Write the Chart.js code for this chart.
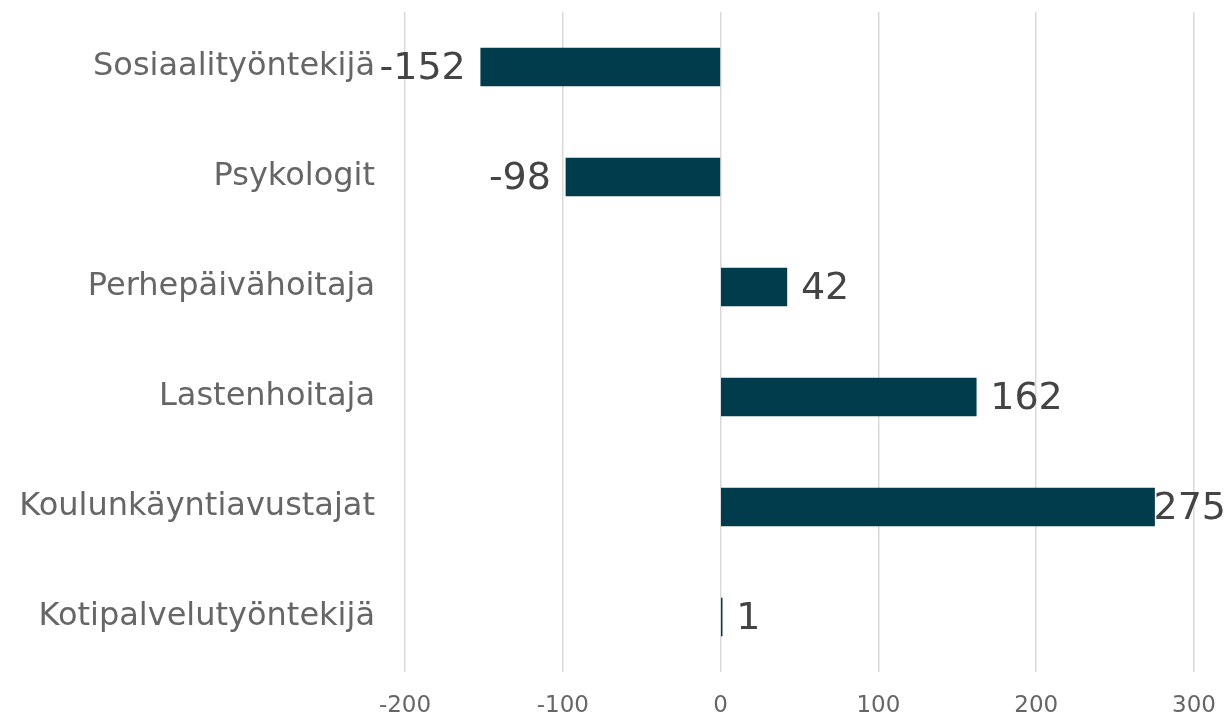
<!DOCTYPE html>
<html>
<head>
<meta charset="utf-8">
<script src="https://cdn.jsdelivr.net/npm/chart.js@4"></script>
<style>
  html, body { margin: 0; padding: 0; background: #fff; }
  #wrap { width: 1227px; height: 714px; position: relative; }
</style>
</head>
<body>
<div id="wrap"><canvas id="changeChart"></canvas></div>
<script>
// Occupations and change values
const occupations = [
    'Sosiaalityöntekijä',
    'Psykologit',
    'Perhepäivähoitaja',
    'Lastenhoitaja',
    'Koulunkäyntiavustajat',
    'Kotipalvelutyöntekijä'
];
const changeValues = [-152, -98, 42, 162, 275, 1];
const xTicks = [-200, -100, 0, 100, 200, 300];

const barColor = '#003c4b';

// Draw the value next to the end of each bar
const valueLabels = {
    id: 'valueLabels',
    afterDatasetsDraw(chart) {
        const ctx = chart.ctx;
        const meta = chart.getDatasetMeta(0);
        ctx.save();
        ctx.font = '38px "DejaVu Sans", Verdana, sans-serif';
        ctx.fillStyle = '#444444';
        ctx.textBaseline = 'middle';
        meta.data.forEach((bar, i) => {
            const v = changeValues[i];
            const txt = String(v);
            const w = ctx.measureText(txt).width;
            if (v < 0) {
                ctx.textAlign = 'right';
                ctx.fillText(txt, bar.x - 15, bar.y + 2);
            } else {
                ctx.textAlign = 'left';
                const x = Math.min(bar.x + 14, chart.width - 1 - w);
                ctx.fillText(txt, x, bar.y + 2);
            }
        });
        ctx.restore();
    }
};

const ctx = document.getElementById('changeChart').getContext('2d');
const changeChart = new Chart(ctx, {
    type: 'bar',
    data: {
        labels: occupations,
        datasets: [{
            data: changeValues,
            backgroundColor: barColor,
            borderWidth: 0,
            barThickness: 38
        }]
    },
    options: {
        indexAxis: 'y',
        responsive: true,
        maintainAspectRatio: false,
        animation: false,
        layout: { padding: { top: 12, right: 33, left: 0, bottom: 0 } },
        plugins: {
            legend: { display: false },
            tooltip: { enabled: false }
        },
        scales: {
            x: {
                min: -200,
                max: 300,
                afterBuildTicks: (axis) => { axis.ticks = xTicks.map(v => ({ value: v })); },
                afterFit: (axis) => {
                    axis.height = 42;
                    axis.paddingLeft = 0;
                    axis.paddingRight = 0;
                },
                grid: { color: '#d9d9d9', lineWidth: 1.5, drawTicks: false },
                border: { display: false },
                ticks: {
                    padding: 20,
                    color: '#666666',
                    font: { family: '"DejaVu Sans", Verdana, sans-serif', size: 23 }
                }
            },
            y: {
                afterFit: (axis) => {
                    axis.width = 405;
                    axis.paddingTop = 0;
                    axis.paddingBottom = 0;
                },
                grid: { display: false, drawTicks: false },
                border: { display: false },
                ticks: {
                    padding: 30,
                    color: '#666666',
                    font: { family: '"DejaVu Sans", Verdana, sans-serif', size: 32 }
                }
            }
        }
    },
    plugins: [valueLabels]
});
</script>
</body>
</html>
